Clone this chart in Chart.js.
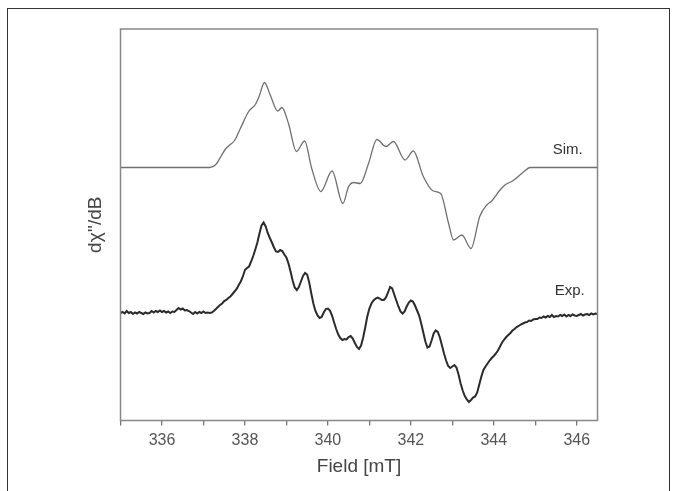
<!DOCTYPE html>
<html>
<head>
<meta charset="utf-8">
<script src="https://cdn.jsdelivr.net/npm/chart.js@4.4.1/dist/chart.umd.min.js"></script>
<style>
  html, body { margin: 0; padding: 0; background: #fff; }
  #wrap { position: relative; width: 676px; height: 491px; overflow: hidden; }
  #frame { position: absolute; left: 7px; top: 8px; width: 661px; height: 520px; border: 1px solid #333; border-bottom: none; }
  canvas { position: absolute; left: 0; top: 0; }
</style>
</head>
<body>
<div id="wrap">
  <div id="frame"></div>
  <canvas id="epr" width="676" height="491"></canvas>
</div>
<script>
// field axis (mT)
const fieldMin = 335;
const fieldMax = 346.5;
const fieldLabels = [336, 338, 340, 342, 344, 346];

// simulated spectrum (field, intensity above baseline)
const simField = [335.0, 337.15, 337.3, 337.42, 337.54, 337.65, 337.75, 337.89, 338.09, 338.25,
  338.35, 338.47, 338.61, 338.79, 338.89, 339.05, 339.24, 339.44, 339.61, 339.83,
  340.10, 340.36, 340.50, 340.62, 340.78, 340.98, 341.18, 341.40, 341.58, 341.86,
  342.06, 342.30, 342.54, 342.72, 342.91, 343.03, 343.23, 343.45, 343.66, 343.83,
  343.95, 344.15, 344.27, 344.47, 344.70, 344.88, 346.5];
const simValue = [0, 0, 3, 11, 19, 23, 27, 39, 56, 63,
  72, 85, 72.5, 56.5, 60, 44, 16, 26.5, -1, -24,
  -3.5, -36, -19, -15, -16, 4, 28, 21, 26, 7.5,
  16.5, -9, -23.5, -26, -56, -72.5, -67.5, -81, -49, -37.5,
  -33.5, -22.5, -17.5, -13, -5, 0, 0];

// experimental spectrum, sampled every 0.05 mT from 335.00 mT
const expStart = 335.0;
const expStep = 0.05;
const expValue = [
  0.5, 1.5, 0, 2.5, 0.5, 1.5, -0.5, 1, 0, 1.5,
  0.5, -0.5, 1, 0, 0.5, 2.5, 1, 2.5, 1.5, 3,
  1.5, 2.5, 1, 2, 0.5, 2, 1.5, 3.5, 5.5, 4,
  5, 3, 3.5, 2.5, 1, -0.5, 1.5, 0, 1.5, 0.5,
  2, 0.5, 1, 0.5, 1, 2.5, 4.5, 6.5, 8.5, 10,
  12.5, 13.5, 15.5, 17, 19.5, 22, 24.5, 28.5, 32, 37,
  43.5, 45.5, 47, 52, 57.5, 64, 71, 80, 88, 91,
  87, 80.5, 75.5, 71, 66, 62, 61.5, 63.5, 62.5, 59,
  56, 50, 42, 33, 26, 23.5, 26.5, 32, 37.5, 40.5,
  39, 31, 20, 10, 2.5, -2, -4.5, -3.5, 1, 4.5,
  5, 3, -2, -9, -15.5, -21, -24.5, -26.5, -25.5, -26,
  -23.5, -22.5, -25, -29.5, -33.5, -35.5, -32, -24, -14, -3,
  5, 10, 13, 15, 16, 15, 13.5, 13.5, 16, 21,
  26.5, 25, 19, 13, 7, 2, 0, 2, 7, 11,
  13, 12, 8, 3, -2, -10, -19, -28, -34, -33,
  -27, -20, -17, -18.5, -24, -32, -40, -47, -52.5, -54.5,
  -53, -51.5, -54, -61, -70, -77, -82.5, -86, -88.5, -86.5,
  -84, -83, -79, -71, -63, -56.5, -53, -50, -47, -44.5,
  -42.5, -40, -37, -33, -29, -26, -23.5, -21.5, -19.5, -17,
  -15.5, -13.5, -12.5, -11, -10, -9, -8.5, -7, -7.5, -6,
  -5.5, -5.5, -4, -4.5, -3, -4, -2.5, -3.5, -1.5, -3.5,
  -2.5, -3, -1.5, -2.5, -1, -3, -1.5, -2.5, -1, -2,
  -2.5, -1.5, -0.5, -2, -1, -0.5, -1.5, 0, -1, 0,
  -0.5
];

// vertical stacking of the two traces
const simOffset = 253;
const expOffset = 107;

const simPoints = simField.map((f, i) => ({ x: f, y: simValue[i] + simOffset }));
const expPoints = expValue.map((v, i) => ({ x: expStart + i * expStep, y: v + expOffset }));

const framePlugin = {
  id: 'frame',
  afterDraw(chart) {
    const { ctx, chartArea: a, scales } = chart;
    ctx.save();
    ctx.strokeStyle = '#888';
    ctx.lineWidth = 1.5;
    ctx.strokeRect(a.left, a.top, a.right - a.left, a.bottom - a.top);

    ctx.fillStyle = '#333';
    ctx.font = '15px "Liberation Sans", Arial, sans-serif';
    ctx.textBaseline = 'middle';
    ctx.textAlign = 'left';
    ctx.fillText('Sim.', scales.x.getPixelForValue(345.42), scales.y.getPixelForValue(simOffset + 17.5));
    ctx.fillText('Exp.', scales.x.getPixelForValue(345.47), scales.y.getPixelForValue(expOffset + 23));
    ctx.restore();
  }
};

new Chart(document.getElementById('epr'), {
  type: 'line',
  data: {
    datasets: [{
      label: 'Sim.',
      data: simPoints,
      borderColor: '#707070',
      borderWidth: 1.3,
      pointRadius: 0,
      cubicInterpolationMode: 'monotone'
    }, {
      label: 'Exp.',
      data: expPoints,
      borderColor: '#2b2b2b',
      borderWidth: 2,
      pointRadius: 0,
      tension: 0
    }]
  },
  options: {
    responsive: false,
    animation: false,
    layout: { padding: { left: 0, right: 78.5, top: 29, bottom: 0 } },
    plugins: { legend: { display: false }, tooltip: { enabled: false } },
    scales: {
      x: {
        type: 'linear',
        min: fieldMin,
        max: fieldMax,
        afterFit(scale) { scale.height = 70.5; },
        border: { display: false },
        grid: { drawOnChartArea: false, drawTicks: true, tickLength: 5, color: '#777', lineWidth: 1.3 },
        ticks: {
          stepSize: 1,
          includeBounds: false,
          autoSkip: false,
          maxRotation: 0,
          padding: 5,
          color: '#555',
          font: { family: '"Liberation Sans", Arial, sans-serif', size: 16 },
          callback: (v) => fieldLabels.includes(v) ? String(v) : ''
        },
        title: {
          display: true,
          text: 'Field [mT]',
          color: '#444',
          padding: { top: 0, bottom: 13 },
          font: { family: '"Liberation Sans", Arial, sans-serif', size: 19 }
        }
      },
      y: {
        min: 0,
        max: 391.5,
        afterFit(scale) { scale.width = 120.5; },
        border: { display: false },
        grid: { display: false },
        ticks: { display: false },
        title: {
          display: true,
          text: 'd\u03C7\'\'/dB',
          color: '#444',
          padding: { top: 84, bottom: 0 },
          font: { family: '"Liberation Sans", Arial, sans-serif', size: 19 }
        }
      }
    }
  },
  plugins: [framePlugin]
});
</script>
</body>
</html>
